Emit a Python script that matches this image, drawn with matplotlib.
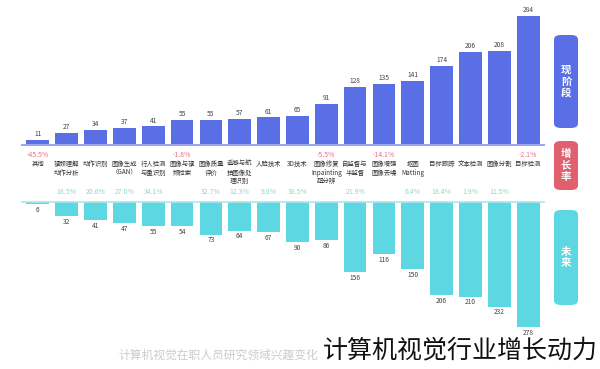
import matplotlib
matplotlib.use('Agg')
import matplotlib.pyplot as plt
from matplotlib.patches import FancyBboxPatch

plt.rcParams['font.family'] = ['Noto Sans CJK SC', 'DejaVu Sans']

categories = ['其他', '视频理解\n动作分析', '动作识别', '图像生成\n（GAN）', '行人检测\n与重识别',
              '图像与视\n频检索', '图像质量\n评价', '遥感与航\n拍图像处\n理识别', '人脸技术', '3D技术',
              '图像修复\nInpainting\n超分辨', '自监督与\n半监督', '图像增强\n图像去噪', '抠图\nMatting',
              '目标跟踪', '文本检测', '图像分割', '目标检测']
current = [11, 27, 34, 37, 41, 55, 55, 57, 61, 65, 91, 128, 135, 141, 174, 206, 208, 284]
future = [6, 32, 41, 47, 55, 54, 73, 64, 67, 90, 86, 156, 116, 150, 206, 210, 232, 278]

blue = '#5a6ee6'
teal = '#5dd8e2'
red = '#e0606e'
W, H = 600, 369

fig = plt.figure(figsize=(6, 3.69), dpi=100)


def fy(px):
    return 1 - px / H


left, right = 22 / W, 544 / W
ax_top = fig.add_axes([left, fy(145), right - left, 145 / H])
ax_bot = fig.add_axes([left, fy(346.5), right - left, 145 / H])

x = list(range(len(categories)))
ax_top.bar(x, current, width=0.79, color=blue)
ax_bot.bar(x, future, width=0.79, color=teal)

for ax in (ax_top, ax_bot):
    ax.set_xlim(-0.55, len(categories) - 0.45)
    ax.set_ylim(0, 320)
    ax.set_xticks([])
    ax.set_yticks([])
    for s in ax.spines.values():
        s.set_visible(False)
    ax.patch.set_alpha(0)
ax_bot.invert_yaxis()
ax_top.spines['bottom'].set_visible(True)
ax_top.spines['bottom'].set_color('#9aa6ee')
ax_top.spines['bottom'].set_linewidth(1.5)
ax_bot.spines['top'].set_visible(True)
ax_bot.spines['top'].set_color('#a8e8ec')
ax_bot.spines['top'].set_linewidth(1.2)

for i, (c, f) in enumerate(zip(current, future)):
    ax_top.text(i, c + 4, str(c), ha='center', va='bottom', fontsize=4.8, color='#444444')
    ax_bot.text(i, f + 4, str(f), ha='center', va='top', fontsize=4.8, color='#444444')

# middle band: growth rate and category names
for i, (name, c, f) in enumerate(zip(categories, current, future)):
    xf = fig.transFigure.inverted().transform(ax_top.transData.transform((i, 0)))[0]
    rate = (f - c) / c * 100
    if rate < 0:
        fig.text(xf, fy(155), f'{rate:.1f}%', ha='center', va='center', fontsize=5,
                 color='#ec6f86', style='italic')
    else:
        fig.text(xf, fy(192.5), f'{rate:.1f}%', ha='center', va='center', fontsize=5,
                 color='#8fd8c8', style='italic')
    fig.text(xf, fy(160), name, ha='center', va='top', fontsize=4.6, color='#333333',
             linespacing=1.1)

# side boxes
for (y0, y1, col, txt) in [(35, 128, blue, '现\n阶\n段'), (141, 190, red, '增\n长\n率'),
                           (210, 305, teal, '未\n来')]:
    box = FancyBboxPatch((554 / W, fy(y1)), 24 / W, (y1 - y0) / H,
                         boxstyle='round,pad=0,rounding_size=0.012',
                         transform=fig.transFigure, facecolor=col, edgecolor='none')
    fig.patches.append(box)
    fig.text(566 / W, fy((y0 + y1) / 2), txt, ha='center', va='center', fontsize=7.5,
             color='white', fontweight='bold', linespacing=1.2)

fig.text(318 / W, fy(355), '计算机视觉在职人员研究领域兴趣变化', ha='right', va='center',
         fontsize=8.5, color='#cccccc')
fig.text(598 / W, fy(350), '计算机视觉行业增长动力', ha='right', va='center',
         fontsize=18, color='#111111')

fig.savefig('out.png', dpi=100)
